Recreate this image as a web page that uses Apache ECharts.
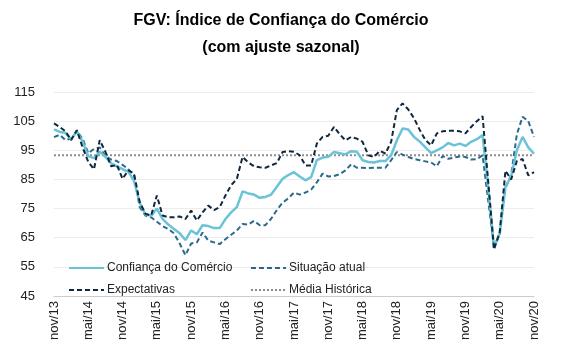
<!DOCTYPE html>
<html>
<head>
<meta charset="utf-8">
<script src="https://cdn.jsdelivr.net/npm/echarts@6/dist/echarts.min.js"></script>
<style>
  html, body { margin: 0; padding: 0; background: #fff; }
  #main { width: 562px; height: 354px; }
</style>
</head>
<body>
<div id="main"></div>
<script>
// meses de nov/13 a nov/20
const mesesNomes = ['jan', 'fev', 'mar', 'abr', 'mai', 'jun', 'jul', 'ago', 'set', 'out', 'nov', 'dez'];
const inicioMes = 10, inicioAno = 13, totalMeses = 85;

const confianca = [
    102.2, 101.3, 101, 98.8, 101.5, 98, 93, 92.3, 94.5, 92.8, 90.5, 89.5,
    88.5, 87.7, 84.5, 77, 73, 72.5, 75, 71.5, 69.5, 68, 66.5, 64.2,
    67.5, 66.2, 69.3, 69, 68.3, 68.3, 71.4, 73.7, 75.5, 80.9, 80.2, 79.8,
    78.7, 79, 79.8, 82.5, 85.2, 86.5, 87.5, 86, 84.7, 85.8, 91.6, 92.5,
    92.8, 94.4, 94, 93.6, 94.7, 94.5, 91.6, 91, 90.8, 91.3, 91.3, 93.3,
    98.4, 102.5, 102.1, 99.6, 98, 96, 94, 95, 96, 97.5, 96.7, 97.3,
    96.5, 97.9, 98.8, 100.2, 82, 61.5, 66.5, 82.5, 86, 95, 99.6, 96,
    93.8
];
const situacao = [
    99.5, 100.3, 98.5, 99, 101.5, 99, 94, 95.5, 96, 93, 91.8, 91.3,
    90, 88.5, 86.5, 75.5, 72.6, 72, 70.5, 69, 68, 66.5, 63, 59,
    63, 63.4, 66.8, 64, 63.4, 62.8, 64.5, 66, 67.5, 69.7, 69.5, 70.8,
    69.3, 69.3, 71.5, 74.5, 77, 78.5, 80.5, 79.8, 80.5, 81.5, 84, 87,
    86, 86.2, 86.8, 88.1, 90.2, 89, 89, 88.9, 89, 89, 89, 91.6,
    94.4, 93.5, 92.7, 92, 91.6, 91.2, 90.8, 89.5, 93, 92.1, 92.5, 92.9,
    92.7, 91.8, 92, 93.3, 77.5, 61.7, 66.3, 82, 86.5, 100.5, 106.5, 105,
    99.6
];
const expectativas = [
    104.2, 103, 101.5, 98.5, 101.9, 96, 91, 88.5, 98.5, 94.5, 89.5, 90,
    85.2, 88.1, 87, 77.2, 73.2, 72.6, 79.5, 72.6, 72, 72, 72.3, 71.4,
    74.3, 70.9, 73.7, 76, 74.5, 75.5, 79.5, 83, 85.2, 92.7, 90.8, 89.5,
    89.2, 89, 89.8, 90.6, 94.4, 94.7, 94.5, 93.3, 89.8, 89.8, 97.3, 99.6,
    100, 103, 100.5, 98.4, 99.6, 99, 97.9, 93.3, 92.7, 94.8, 93.9, 97.9,
    108.8, 111.1, 109, 106, 102, 98.5, 96.7, 100.8, 101.5, 101.7, 101.7, 101.5,
    100.8, 103, 105, 106.7, 84, 61, 66.8, 88, 85, 91.3, 92, 86.4,
    87.5
];
const mediaHistorica = 93.3;

const yTicks = { min: 45, max: 115, step: 10 };

var meses = [];
for (var i = 0; i < totalMeses; i++) {
    var m = (inicioMes + i) % 12;
    var a = inicioAno + Math.floor((inicioMes + i) / 12);
    meses.push(mesesNomes[m] + '/' + a);
}
var media = meses.map(function () { return mediaHistorica; });

var fonte = '"Liberation Sans", Arial, sans-serif';

var legendaBase = {
    orient: 'vertical',
    top: 257,
    itemWidth: 35,
    itemHeight: 12,
    itemGap: 10,
    itemStyle: { opacity: 0 },
    textStyle: { fontFamily: fonte, fontSize: 12, color: '#222', padding: [0, 0, 0, -2] }
};

var myChart = echarts.init(document.getElementById('main'));
var option = {
    animation: false,
    title: {
        text: 'FGV: Índice de Confiança do Comércio\n(com ajuste sazonal)',
        left: 'center',
        top: 2,
        textStyle: {
            fontFamily: fonte,
            fontSize: 16,
            fontWeight: 'bold',
            color: '#000',
            lineHeight: 27
        }
    },
    legend: [
        Object.assign({}, legendaBase, {
            left: 63,
            data: ['Confiança do Comércio', 'Expectativas']
        }),
        Object.assign({}, legendaBase, {
            left: 245,
            data: ['Situação atual', 'Média Histórica']
        })
    ],
    grid: {
        left: 54,
        right: 28,
        top: 92,
        bottom: 58
    },
    xAxis: {
        type: 'category',
        data: meses,
        boundaryGap: false,
        axisLine: { lineStyle: { color: '#cccccc', width: 1 } },
        axisTick: { show: false },
        axisLabel: {
            interval: 5,
            rotate: 90,
            margin: 5,
            fontFamily: fonte,
            fontSize: 13,
            color: '#222'
        }
    },
    yAxis: {
        type: 'value',
        min: yTicks.min,
        max: yTicks.max,
        interval: yTicks.step,
        axisLine: { show: false },
        axisTick: { show: false },
        axisLabel: { fontFamily: fonte, fontSize: 13, color: '#222', margin: 19 },
        splitLine: { lineStyle: { color: '#ececec', width: 1 } }
    },
    series: [
        {
            name: 'Média Histórica',
            type: 'line',
            data: media,
            symbol: 'none',
            lineStyle: { color: '#8c8c8c', width: 2, type: [2, 2] },
            itemStyle: { color: '#8c8c8c' },
            z: 1
        },
        {
            name: 'Confiança do Comércio',
            type: 'line',
            data: confianca,
            symbol: 'none',
            lineStyle: { color: '#6ac3d6', width: 2.5 },
            itemStyle: { color: '#6ac3d6' },
            z: 3
        },
        {
            name: 'Situação atual',
            type: 'line',
            data: situacao,
            symbol: 'none',
            lineStyle: { color: '#2b6a8c', width: 2, type: [5, 3] },
            itemStyle: { color: '#2b6a8c' },
            z: 2
        },
        {
            name: 'Expectativas',
            type: 'line',
            data: expectativas,
            symbol: 'none',
            lineStyle: { color: '#10283e', width: 2, type: [5, 3] },
            itemStyle: { color: '#10283e' },
            z: 4
        }
    ]
};
myChart.setOption(option);
</script>
</body>
</html>
